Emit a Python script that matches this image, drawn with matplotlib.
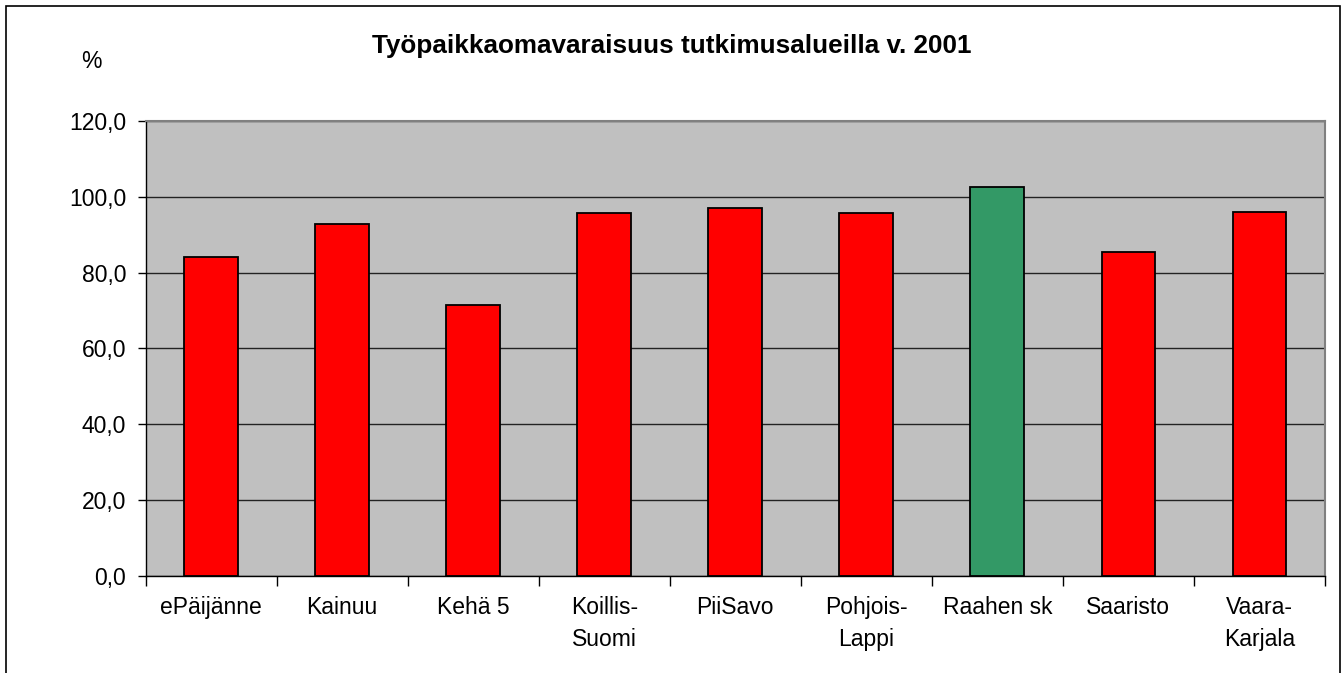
import numpy as np
import matplotlib
matplotlib.use('Agg')
import matplotlib.pyplot as plt
from matplotlib.patches import Rectangle

plt.rcParams['font.family'] = ['Liberation Sans', 'DejaVu Sans']

# data
areas = ['ePäijänne', 'Kainuu', 'Kehä 5', 'Koillis-\nSuomi', 'PiiSavo',
         'Pohjois-\nLappi', 'Raahen sk', 'Saaristo', 'Vaara-\nKarjala']
values = [84.1, 92.9, 71.5, 95.8, 97.1, 95.8, 102.7, 85.5, 96.1]
highlight = 'Raahen sk'
yticks = [0, 20, 40, 60, 80, 100, 120]

W, H = 1343, 673
fig = plt.figure(figsize=(W / 100, H / 100), dpi=100)
ax = fig.add_axes([145.5 / W, 1 - 575.5 / H, (1325 - 145.5) / W, (575.5 - 121.5) / H])

colors = ['#339966' if a == highlight else '#FF0000' for a in areas]
x = np.arange(len(areas))
ax.bar(x, values, width=0.41, color=colors, edgecolor='black', linewidth=1.3, zorder=3)

ax.set_facecolor('#C0C0C0')
ax.set_xlim(-0.5, len(areas) - 0.5)
ax.set_ylim(0, 120)
ax.set_yticks(yticks)
ax.set_yticklabels([('%.1f' % v).replace('.', ',') for v in yticks])
ax.yaxis.grid(True, color='#222222', linewidth=1.0, zorder=1)
ax.set_axisbelow(True)

# category labels between boundary ticks
ax.set_xticks(np.arange(len(areas) + 1) - 0.5)
ax.set_xticklabels([])
ax.set_xticks(x, minor=True)
ax.set_xticklabels(areas, minor=True, fontsize=16.5, linespacing=1.5)
ax.tick_params(axis='x', which='minor', length=0, pad=15)
ax.tick_params(axis='x', which='major', length=7, width=1, direction='out')
ax.tick_params(axis='y', length=6, width=1, direction='out', labelsize=16.5, pad=8)

for s in ['top', 'right']:
    ax.spines[s].set_color('#808080')
    ax.spines[s].set_linewidth(1.5)
for s in ['left', 'bottom']:
    ax.spines[s].set_color('black')
    ax.spines[s].set_linewidth(1.0)

fig.text(0.5, 1 - 46 / H, 'Työpaikkaomavaraisuus tutkimusalueilla v. 2001',
         ha='center', va='center', fontsize=18.8, fontweight='bold')
fig.text(91 / W, 1 - 62 / H, '%', ha='center', va='center', fontsize=16.5)

# outer chart frame (its bottom edge lies below the image)
fig.patches.append(Rectangle((5.5 / W, -10 / H), (1340 - 5.5) / W, (H - 5.5 + 10) / H,
                             transform=fig.transFigure, fill=False,
                             edgecolor='black', linewidth=1.2))

fig.savefig('out.png', dpi=100)
plt.close()
